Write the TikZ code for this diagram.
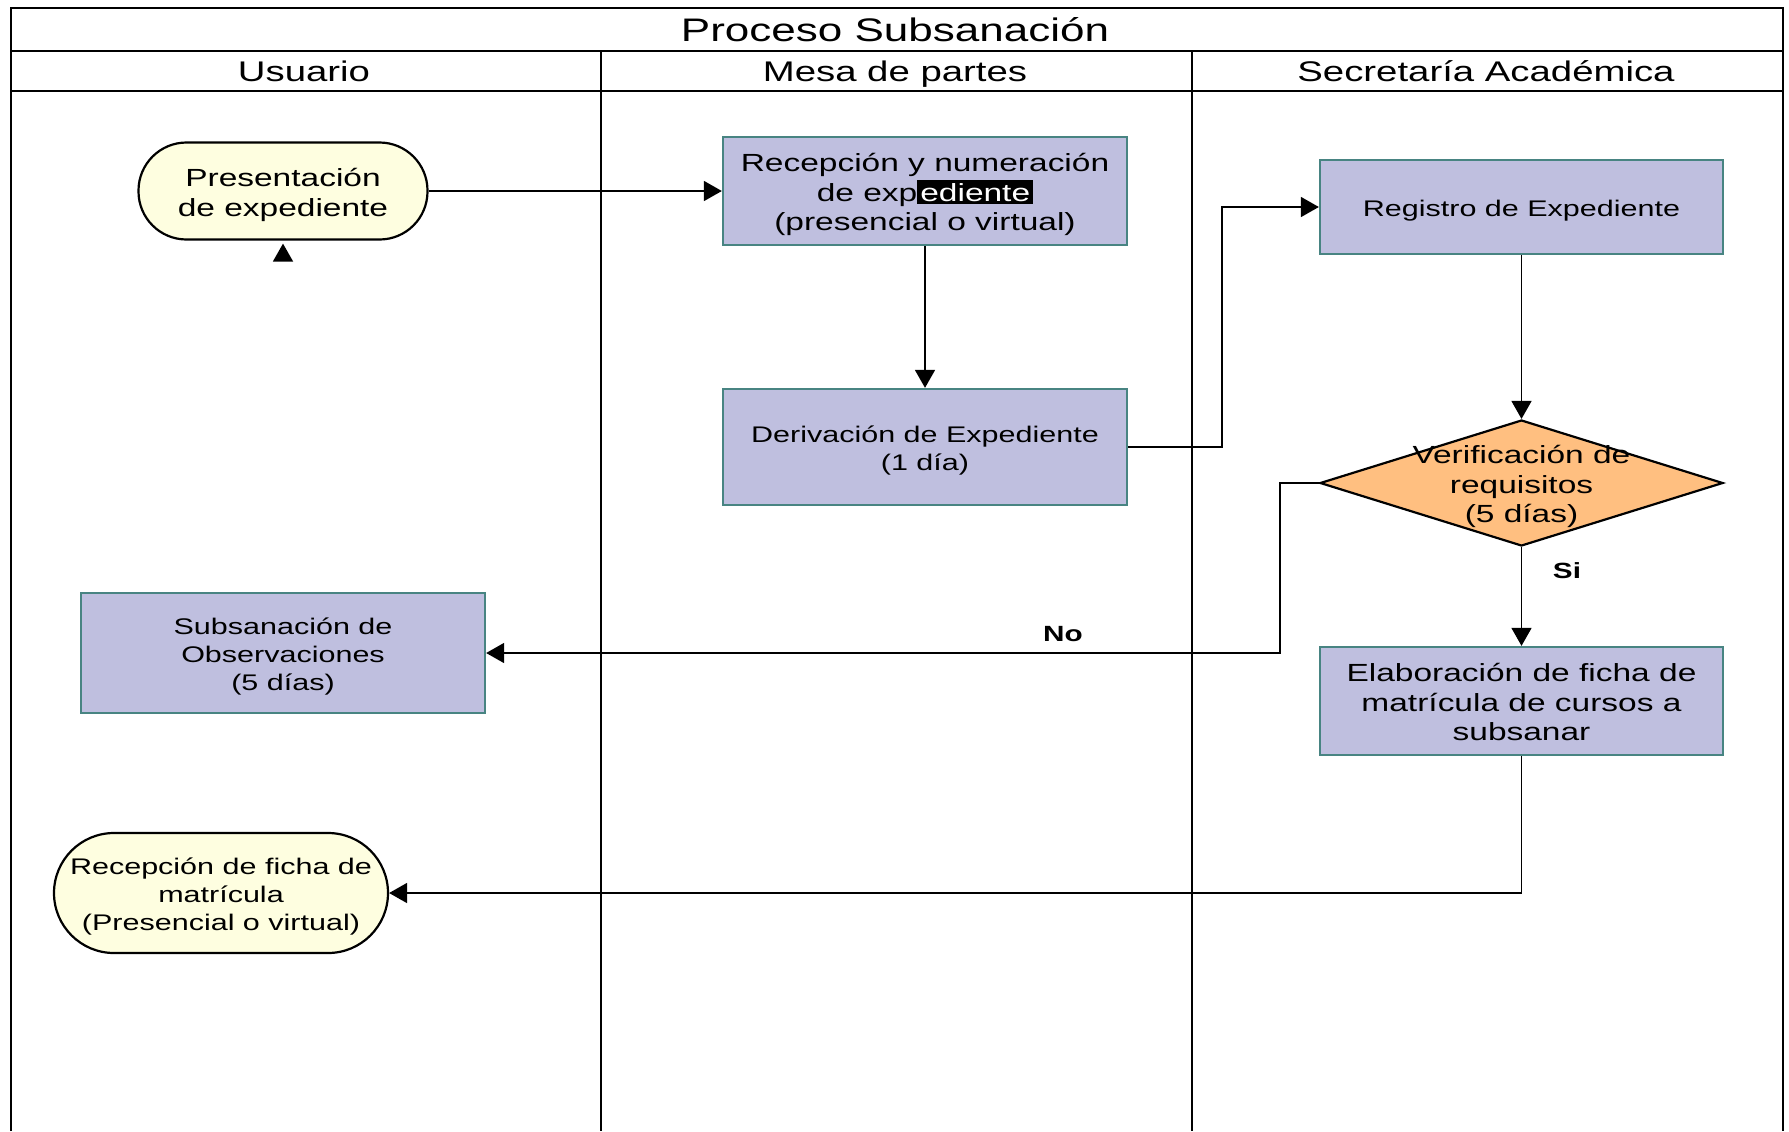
\documentclass[tikz,border=0pt]{standalone}
\usepackage{fontspec}
\setmainfont{Liberation Sans}[FakeStretch=1.35]
\usetikzlibrary{arrows.meta,shapes.geometric}
\definecolor{boxfill}{RGB}{191,191,223}
\definecolor{boxline}{RGB}{72,132,130}
\definecolor{termfill}{RGB}{254,254,224}
\definecolor{decfill}{RGB}{255,191,128}
% every text line gets the same box, so lines centre on their letters, not on accents or descenders
\newcommand\rowtxt[1]{\raisebox{0pt}[0.82em][0pt]{#1}}
\begin{document}
\begin{tikzpicture}[x=0.5pt,y=-0.5pt,
  lane/.style={line width=1.1pt},
  procbox/.style={rectangle, draw=boxline, fill=boxfill, line width=1.15pt, align=center, inner sep=0pt},
  terminal/.style={rectangle, draw=black, fill=termfill, line width=1.1pt, align=center, inner sep=0pt},
  decision/.style={diamond, draw=black, fill=decfill, line width=1.1pt, inner sep=0pt},
  bigtxt/.style={font=\fontsize{12.4pt}{14.9pt}\selectfont},
  smalltxt/.style={font=\fontsize{11.3pt}{14pt}\selectfont},
  flow/.style={line width=0.8pt, -{Triangle[length=9pt,width=10pt]}},
  branch/.style={font=\bfseries\fontsize{11pt}{13pt}\selectfont},
  headtxt/.style={font=\fontsize{14.2pt}{16pt}\selectfont},
  titletxt/.style={font=\fontsize{16.3pt}{18pt}\selectfont}
]
\useasboundingbox (0,0) rectangle (1789,1131);

% swimlane frame
\draw[lane] (11,1131) -- (11,8) -- (1783,8) -- (1783,1131);
\draw[lane] (11,51) -- (1783,51);
\draw[lane] (11,91) -- (1783,91);
\draw[lane] (601,51) -- (601,1131);
\draw[lane] (1192,51) -- (1192,1131);

\node[titletxt] (title) at (895,28) {\rowtxt{Proceso Subsanación}};
\node[headtxt] (laneA) at (304,70) {\rowtxt{Usuario}};
\node[headtxt] (laneB) at (895,70) {\rowtxt{Mesa de partes}};
\node[headtxt] (laneC) at (1486,70) {\rowtxt{Secretaría Académica}};

% activities
\node[terminal, bigtxt, minimum width=144.5pt, minimum height=48.5pt, rounded corners=24pt]
  (pres) at (283,191) {\rowtxt{Presentación}\\\rowtxt{de expediente}};
\node[procbox, bigtxt, minimum width=202pt, minimum height=54pt]
  (recep) at (925,191) {\rowtxt{Recepción y numeración}\\
  \rowtxt{de exp{\setlength\fboxsep{1.5pt}\colorbox{black}{\textcolor{white}{ediente}}}}\\
  \rowtxt{(presencial o virtual)}};
\node[procbox, smalltxt, minimum width=202pt, minimum height=58pt]
  (deriv) at (925,447) {\rowtxt{Derivación de Expediente}\\\rowtxt{(1 día)}};
\node[procbox, smalltxt, minimum width=201.5pt, minimum height=47pt]
  (regis) at (1521.5,207) {\rowtxt{Registro de Expediente}};
\node[decision, minimum width=201.5pt, minimum height=63pt]
  (verif) at (1521.5,483) {};
\node[bigtxt, align=center, inner sep=0pt] (veriftxt) at (verif.center)
  {\rowtxt{Verificación de}\\\rowtxt{requisitos}\\\rowtxt{(5 días)}};
\node[procbox, smalltxt, minimum width=202pt, minimum height=60pt]
  (subs) at (283,653) {\rowtxt{Subsanación de}\\\rowtxt{Observaciones}\\\rowtxt{(5 días)}};
\node[procbox, bigtxt, minimum width=201.5pt, minimum height=54pt]
  (elab) at (1521.5,701) {\rowtxt{Elaboración de ficha de}\\\rowtxt{matrícula de cursos a}\\\rowtxt{subsanar}};
\node[terminal, smalltxt, minimum width=167pt, minimum height=60pt, rounded corners=30pt]
  (ficha) at (221,893) {\rowtxt{Recepción de ficha de}\\\rowtxt{matrícula}\\\rowtxt{(Presencial o virtual)}};

% connectors
\coordinate (j1) at (1222,330);
\coordinate (j2) at (1280,560);
\coordinate (loose) at (283,259);
\draw[flow] (pres.east) -- (recep.west);
\draw[flow] (recep.south) -- (deriv.north);
\draw[flow] (deriv.east) -| (j1) |- (regis.west);
\draw[flow] (regis.south) -- (verif.north);
\draw[flow] (verif.west) -| (j2) |- (subs.east);
\draw[flow] (verif.south) -- (elab.north);
\draw[flow] (elab.south) |- (ficha.east);
\draw[flow] (loose) -- ([yshift=-1.5pt]pres.south);

\node[branch] (lblNo) at (1063,634) {No};
\node[branch] (lblSi) at (1567,571) {Si};
\end{tikzpicture}
\end{document}
